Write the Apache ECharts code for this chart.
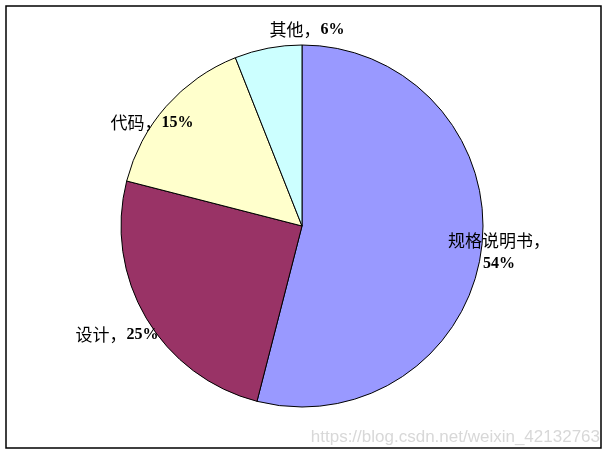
<!DOCTYPE html>
<html>
<head>
<meta charset="utf-8">
<script src="https://cdn.jsdelivr.net/npm/echarts@6/dist/echarts.min.js"></script>
<style>
  html, body { margin: 0; padding: 0; background: #fff; }
  #chart { width: 609px; height: 455px; }
</style>
</head>
<body>
<div id="chart"></div>
<script>
// 各阶段占比
var categories = ['规格说明书', '设计', '代码', '其他'];
var values = [54, 25, 15, 6];
var colors = ['#9999FF', '#993366', '#FFFFCC', '#CCFFFF'];

// 标签位置（像素）
var labelPos = [[499, 252], [117, 335], [152, 123], [307, 30]];

var pieData = categories.map(function (name, i) {
    return { name: name, value: values[i], itemStyle: { color: colors[i] } };
});

var chart = echarts.init(document.getElementById('chart'));
chart.setOption({
    animation: false,
    graphic: [
        {
            type: 'rect',
            shape: { x: 6, y: 6, width: 595, height: 442 },
            style: { fill: 'none', stroke: '#000', lineWidth: 1.5 },
            z: 0
        },
        {
            type: 'text',
            x: 600, y: 437,
            style: {
                text: 'https://blog.csdn.net/weixin_42132763',
                fill: '#d8d8d8',
                font: '17px "Liberation Sans", Arial, sans-serif',
                align: 'right',
                verticalAlign: 'middle'
            },
            z: 10
        }
    ],
    series: [
        {
            type: 'pie',
            center: [302, 226],
            radius: 181,
            startAngle: 90,
            clockwise: true,
            data: pieData,
            itemStyle: { borderColor: '#000', borderWidth: 1 },
            emphasis: { disabled: true },
            labelLine: { show: false },
            label: {
                show: true,
                position: 'outside',
                overflow: 'none',
                color: '#000',
                lineHeight: 23,
                formatter: function (p) {
                    if (p.dataIndex === 0) {
                        return '{c|' + p.name + '，}\n{n|' + p.value + '%}';
                    }
                    return '{c|' + p.name + '，}{n|' + p.value + '%}';
                },
                rich: {
                    c: {
                        fontSize: 17,
                        fontWeight: 'normal',
                        lineHeight: 23,
                        fontFamily: '"Noto Sans CJK SC", sans-serif',
                        color: '#000'
                    },
                    n: {
                        fontSize: 16,
                        fontWeight: 'bold',
                        lineHeight: 23,
                        fontFamily: '"Liberation Serif", serif',
                        color: '#000'
                    }
                }
            },
            labelLayout: function (params) {
                var pos = labelPos[params.dataIndex];
                return { x: pos[0], y: pos[1], align: 'center', verticalAlign: 'middle' };
            }
        }
    ]
});
</script>
</body>
</html>
